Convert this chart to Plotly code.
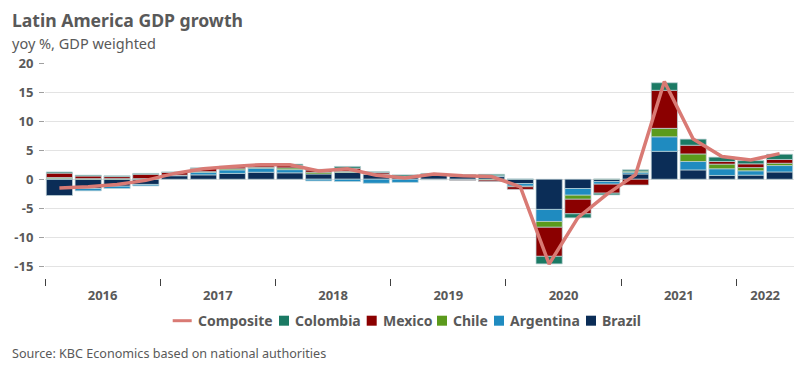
import plotly.graph_objects as go

quarters = [f"{y}Q{q}" for y in range(2016, 2023) for q in range(1, 5)][:26]
years = ["2016", "2017", "2018", "2019", "2020", "2021", "2022"]

brazil = [-2.8, -1.6, -1.2, -0.9, 0.6, 0.75, 1.0, 1.2, 1.1, 0.9, 1.15, 0.85, 0.35, 0.7, 0.5, 0.45,
          -0.75, -5.2, -1.6, -0.4, 0.9, 4.8, 1.6, 0.65, 0.7, 1.25]
argentina = [0.1, -0.4, -0.4, -0.25, 0.1, 0.45, 0.6, 0.7, 0.55, -0.3, -0.4, -0.7, -0.55, -0.05, -0.1, 0.15,
             -0.45, -2.07, -1.15, -0.45, 0.3, 2.5, 1.45, 1.15, 0.75, 1.1]
chile = [0.2, 0.1, 0.1, 0.1, 0.0, 0.1, 0.2, 0.15, 0.3, 0.3, 0.2, 0.05, 0.1, 0.1, 0.1, -0.15,
         -0.1, -1.0, -0.7, 0.05, 0.2, 1.45, 1.3, 0.8, 0.55, 0.4]
mexico = [0.75, 0.45, 0.35, 0.75, 0.5, 0.6, 0.35, 0.3, 0.4, 0.4, 0.55, 0.25, 0.05, -0.05, -0.1, -0.25,
          -0.45, -5.0, -2.5, -1.55, -1.0, 6.55, 1.5, 0.45, 0.65, 0.65]
colombia = [0.2, 0.15, 0.15, 0.15, 0.05, 0.05, 0.1, 0.15, 0.25, 0.1, 0.3, 0.15, 0.25, 0.2, 0.2, 0.25,
            0.05, -1.3, -0.7, -0.3, 0.23, 1.3, 1.05, 0.75, 0.55, 0.9]
composite = [-1.5, -1.3, -0.9, -0.2, 1.0, 1.8, 2.2, 2.5, 2.5, 1.4, 1.8, 0.7, 0.2, 0.9, 0.6, 0.45,
             -1.3, -14.6, -6.6, -2.6, 0.8, 16.8, 6.9, 3.9, 3.3, 4.4]

x = list(range(len(quarters)))
year_mid = [4 * i + 1.5 for i in range(6)] + [24.5]
year_bounds = [4 * i - 0.5 for i in range(7)]
ytick_vals = [-15, -10, -5, 0, 5, 10, 15, 20]

GRAY = "#595959"
FONT = "Noto Sans"
LINE_COL = "#d97a74"

# plot area in pixels
L, R, T, B = 45, 18, 63, 97
PW, PH = 812 - L - R, 375 - T - B


def px(xp):
    return (xp - L) / PW


def py(yp):
    return (375 - B - yp) / PH


fig = go.Figure()
series = [("Brazil", brazil, "#0b2d57"), ("Argentina", argentina, "#1f8bc0"),
          ("Chile", chile, "#5b9a1c"), ("Mexico", mexico, "#8b0000"),
          ("Colombia", colombia, "#1b7a64")]
for name, vals, col in series:
    fig.add_trace(go.Bar(x=x, y=vals, name=name, marker_color=col,
                         marker_line=dict(width=0.8, color="rgba(190,210,215,0.9)"),
                         hovertext=quarters, showlegend=False))
fig.add_trace(go.Scatter(x=x, y=composite, name="Composite", mode="lines",
                         line=dict(color=LINE_COL, width=3.5), hovertext=quarters, showlegend=False))

# manual compact legend (order as in reference)
legend_items = [("Composite", LINE_COL, "line", 172.7, 195.5),
                ("Colombia", "#1b7a64", "sq", 279, 292.5),
                ("Mexico", "#8b0000", "sq", 366.7, 380.5),
                ("Chile", "#5b9a1c", "sq", 437, 451.5),
                ("Argentina", "#1f8bc0", "sq", 494, 507.5),
                ("Brazil", "#0b2d57", "sq", 586, 599.5)]
LY = 320.7
shapes = []
annotations = []
for name, col, kind, sx, tx in legend_items:
    if kind == "line":
        shapes.append(dict(type="line", xref="paper", yref="paper", x0=px(sx), x1=px(sx + 19),
                           y0=py(LY), y1=py(LY), line=dict(color=col, width=3)))
    else:
        shapes.append(dict(type="rect", xref="paper", yref="paper", x0=px(sx), x1=px(sx + 10),
                           y0=py(LY - 5), y1=py(LY + 5), fillcolor=col, line=dict(width=0)))
    annotations.append(dict(text=f"<b>{name}</b>", xref="paper", yref="paper", x=px(tx), y=py(LY),
                            xanchor="left", yanchor="middle", showarrow=False,
                            font=dict(size=14, color=GRAY)))

annotations += [
    dict(text="<b>Latin America GDP growth</b>", xref="paper", yref="paper",
         x=px(10), y=py(20), xanchor="left", yanchor="middle", showarrow=False,
         font=dict(size=17.6, color=GRAY)),
    dict(text="yoy %, GDP weighted", xref="paper", yref="paper",
         x=px(10), y=py(43), xanchor="left", yanchor="middle", showarrow=False,
         font=dict(size=14.5, color=GRAY)),
    dict(text="Source: KBC Economics based on national authorities", xref="paper", yref="paper",
         x=px(10), y=py(353), xanchor="left", yanchor="middle", showarrow=False,
         font=dict(size=12.6, color=GRAY)),
]

fig.update_layout(
    barmode="relative", bargap=0.09,
    width=812, height=375,
    margin=dict(l=L, r=R, t=T, b=B, autoexpand=False),
    plot_bgcolor="white", paper_bgcolor="white",
    font=dict(family=FONT, color=GRAY),
    showlegend=False,
    xaxis=dict(range=[-0.5, 25.5], tickmode="array", tickvals=year_mid, ticktext=[f"<b>{y}</b>" for y in years],
               ticks="", showgrid=False, zeroline=False, showline=False, automargin=False,
               tickfont=dict(size=13, color=GRAY), ticklabelstandoff=8,
               minor=dict(tickmode="array", tickvals=year_bounds, ticks="outside", ticklen=7,
                          tickcolor="#404040", tickwidth=1, showgrid=False)),
    yaxis=dict(range=[-17, 20], tickmode="array", tickvals=ytick_vals,
               ticktext=[f"<b>{v}</b>" for v in ytick_vals], automargin=False,
               showgrid=True, gridcolor="#e3e3e3", gridwidth=1, zeroline=False,
               ticks="outside", ticklen=5, tickcolor="#a0a0a0", tickfont=dict(size=13, color=GRAY),
               ticklabelstandoff=3, showline=False),
    shapes=shapes,
    annotations=annotations,
)

fig.write_html("out.html", config={"displayModeBar": False},
               post_script="document.body.style.margin='0';")
